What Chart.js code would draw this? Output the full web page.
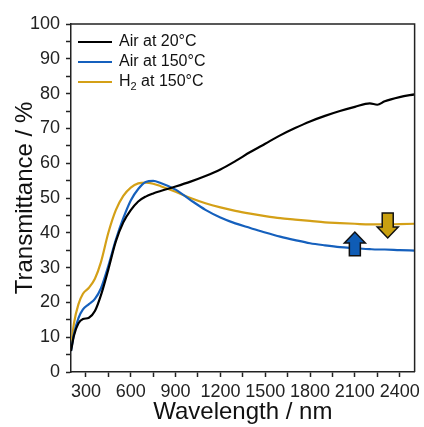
<!DOCTYPE html>
<html>
<head>
<meta charset="utf-8">
<script src="https://cdn.jsdelivr.net/npm/chart.js@4"></script>
<style>
  html, body { margin: 0; padding: 0; background: #fff; }
  #wrap { width: 424px; height: 427px; }
</style>
</head>
<body>
<div id="wrap"><canvas id="chart"></canvas></div>
<script>
// wavelength in nm
const wavelengths = [200, 220, 250, 280, 320, 360, 400, 450, 500, 550, 600, 650, 700, 750, 800, 900, 1000, 1100, 1200, 1300, 1400, 1500, 1600, 1700, 1800, 1900, 2000, 2100, 2200, 2250, 2300, 2400, 2500];

// transmittance in %
const airAt20 = [6, 10.5, 14, 15.2, 15.6, 17.5, 22, 29.5, 37.5, 43, 46.5, 49, 50.4, 51.3, 52, 53.3, 54.7, 56.3, 58.2, 60.6, 63.2, 65.6, 68, 70.1, 72, 73.6, 75, 76.2, 77.2, 76.8, 77.8, 79, 79.8];
const airAt150 = [6, 11, 15.5, 18, 19.5, 21, 24, 30.5, 38, 44.2, 49.3, 52.6, 54.6, 54.9, 54.3, 52.4, 49.4, 46.6, 44.4, 42.7, 41.4, 40.1, 38.9, 37.9, 37, 36.4, 35.9, 35.6, 35.3, 35.2, 35.2, 35, 34.9];
const h2At150 = [7, 14, 19.5, 22.5, 24.2, 26.8, 31.5, 40, 46.5, 50.6, 53, 54.2, 54.4, 54.1, 53.4, 51.8, 50, 48.5, 47.3, 46.3, 45.5, 44.8, 44.2, 43.8, 43.4, 43, 42.8, 42.6, 42.4, 42.4, 42.4, 42.5, 42.6];

const seriesLabels = ['Air at 20°C', 'Air at 150°C', 'H2 at 150°C'];
const seriesColors = ['#000000', '#1560bd', '#d4a017'];

// arrows: x position, start and end in %
const arrowWl = [2100, 2320];
const arrowFrom = [33.4, 45.7];
const arrowTo = [40.2, 38.5];
const arrowColors = ['#0f5cb5', '#c9a010'];

const axisColor = '#222';

const toPoints = (ys) => wavelengths.map((x, i) => ({ x: x, y: ys[i] }));

const frameAndExtras = {
  id: 'frameAndExtras',
  afterDatasetsDraw(chart) {
    const ctx = chart.ctx;
    const area = chart.chartArea;
    const xs = chart.scales.x;
    const ys = chart.scales.y;
    ctx.save();

    // top and right frame
    ctx.strokeStyle = axisColor;
    ctx.lineWidth = 1.5;
    ctx.beginPath();
    ctx.moveTo(area.left, area.top);
    ctx.lineTo(area.right, area.top);
    ctx.lineTo(area.right, area.bottom);
    ctx.stroke();

    // arrows
    arrowWl.forEach((wl, i) => {
      const cx = xs.getPixelForValue(wl);
      const y0 = ys.getPixelForValue(arrowFrom[i]);
      const y1 = ys.getPixelForValue(arrowTo[i]);
      const dir = y1 < y0 ? -1 : 1;
      const headLen = 11;
      const shaftHalf = 5.5;
      const headHalf = 10.5;
      const yb = y1 - dir * headLen;
      ctx.beginPath();
      ctx.moveTo(cx - shaftHalf, y0);
      ctx.lineTo(cx - shaftHalf, yb);
      ctx.lineTo(cx - headHalf, yb);
      ctx.lineTo(cx, y1);
      ctx.lineTo(cx + headHalf, yb);
      ctx.lineTo(cx + shaftHalf, yb);
      ctx.lineTo(cx + shaftHalf, y0);
      ctx.closePath();
      ctx.fillStyle = arrowColors[i];
      ctx.fill();
      ctx.lineWidth = 1.5;
      ctx.strokeStyle = '#111';
      ctx.stroke();
    });

    // legend
    ctx.font = '16px "Liberation Sans", Arial, sans-serif';
    ctx.textBaseline = 'middle';
    ctx.fillStyle = '#111';
    chart.data.datasets.forEach((ds, i) => {
      const y = area.top + 18 + i * 20;
      const x0 = area.left + 7;
      ctx.strokeStyle = ds.borderColor;
      ctx.lineWidth = 2.2;
      ctx.beginPath();
      ctx.moveTo(x0, y);
      ctx.lineTo(x0 + 34, y);
      ctx.stroke();
      let tx = x0 + 41;
      if (ds.label.startsWith('H2')) {
        ctx.fillText('H', tx, y);
        tx += ctx.measureText('H').width;
        ctx.font = '11px "Liberation Sans", Arial, sans-serif';
        ctx.fillText('2', tx, y + 5);
        tx += ctx.measureText('2').width;
        ctx.font = '16px "Liberation Sans", Arial, sans-serif';
        ctx.fillText(ds.label.slice(2), tx, y);
      } else {
        ctx.fillText(ds.label, tx, y);
      }
    });
    ctx.restore();
  }
};

const tickFont = { family: '"Liberation Sans", Arial, sans-serif', size: 18 };
const titleFont = { family: '"Liberation Sans", Arial, sans-serif', size: 24 };

const config = {
  type: 'line',
  data: {
    datasets: [
      { label: seriesLabels[0], data: toPoints(airAt20), borderColor: seriesColors[0] },
      { label: seriesLabels[1], data: toPoints(airAt150), borderColor: seriesColors[1] },
      { label: seriesLabels[2], data: toPoints(h2At150), borderColor: seriesColors[2] }
    ].map(ds => Object.assign(ds, {
      borderWidth: 2.2,
      pointRadius: 0,
      fill: false,
      cubicInterpolationMode: 'monotone'
    }))
  },
  options: {
    responsive: true,
    maintainAspectRatio: false,
    animation: false,
    layout: { padding: { top: 24, right: 7, left: 0, bottom: 0 } },
    scales: {
      x: {
        type: 'linear',
        min: 200,
        max: 2500,
        afterFit: (scale) => { scale.height = 55; },
        border: { display: true, color: axisColor, width: 1.5 },
        grid: { drawOnChartArea: false, drawTicks: true, tickLength: 5, tickColor: axisColor, tickWidth: 1.5 },
        ticks: {
          stepSize: 150,
          includeBounds: false,
          autoSkip: false,
          maxRotation: 0,
          padding: 4,
          color: '#222',
          font: tickFont,
          callback: (v) => (v % 300 === 0 ? String(v) : '')
        },
        title: { display: true, text: 'Wavelength / nm', color: '#111', font: titleFont, padding: { top: 0, bottom: 0 } }
      },
      y: {
        min: 0,
        max: 100,
        afterFit: (scale) => { scale.width = 71; },
        border: { display: true, color: axisColor, width: 1.5 },
        grid: { drawOnChartArea: false, drawTicks: true, tickLength: 5, tickColor: axisColor, tickWidth: 1.5 },
        ticks: {
          stepSize: 5,
          autoSkip: false,
          padding: 6,
          color: '#222',
          font: tickFont,
          callback: (v) => (v % 10 === 0 ? String(v) : '')
        },
        title: { display: true, text: 'Transmittance / %', color: '#111', font: titleFont, padding: { top: 11, bottom: 0 } }
      }
    },
    plugins: {
      legend: { display: false },
      tooltip: { enabled: false }
    }
  },
  plugins: [frameAndExtras]
};

new Chart(document.getElementById('chart'), config);
</script>
</body>
</html>
